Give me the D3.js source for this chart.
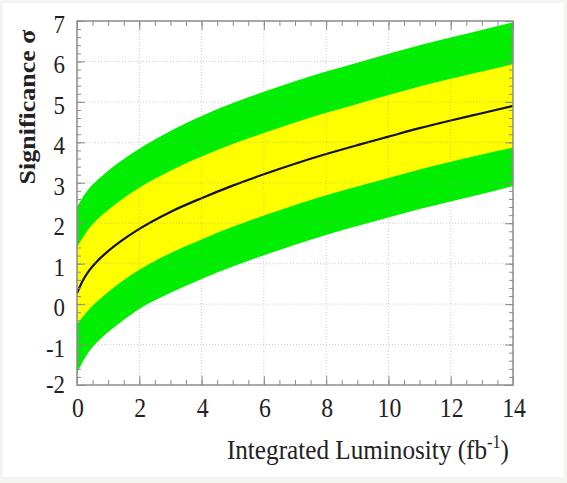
<!DOCTYPE html>
<html>
<head>
<meta charset="utf-8">
<script src="https://cdn.jsdelivr.net/npm/d3@7"></script>
<style>
  html, body { margin: 0; padding: 0; background: #f3f3f1; }
  svg { display: block; }
</style>
</head>
<body>
<svg id="chart" width="567" height="483"></svg>
<script>
// Integrated luminosity (fb^-1) sample points
const lumi = [0, 0.2, 0.4, 0.7, 1, 1.4, 2, 3, 4, 5, 6, 7, 8, 9, 10, 11, 12, 13, 14];
// Expected significance (central curve)
const sigCentral = [0.27, 0.6, 0.84, 1.1, 1.31, 1.55, 1.86, 2.28, 2.62, 2.93, 3.21, 3.47, 3.71, 3.93, 4.14, 4.35, 4.54, 4.72, 4.9];
// ±1σ band
const sig1Up   = [1.41, 1.66, 1.88, 2.13, 2.33, 2.57, 2.88, 3.3, 3.65, 3.96, 4.23, 4.49, 4.73, 4.95, 5.17, 5.38, 5.57, 5.75, 5.93];
const sig1Down = [-0.5, -0.3, -0.12, 0.1, 0.3, 0.54, 0.85, 1.26, 1.6, 1.91, 2.19, 2.45, 2.69, 2.91, 3.12, 3.33, 3.52, 3.7, 3.87];
// ±2σ band
const sig2Up   = [2.4, 2.66, 2.87, 3.1, 3.3, 3.53, 3.84, 4.28, 4.65, 4.97, 5.25, 5.51, 5.75, 5.97, 6.19, 6.4, 6.59, 6.78, 6.97];
const sig2Down = [-1.71, -1.4, -1.16, -0.9, -0.69, -0.45, -0.12, 0.28, 0.62, 0.93, 1.21, 1.47, 1.71, 1.93, 2.14, 2.35, 2.54, 2.72, 2.92];
// Axis ticks
const xTicks = [0, 2, 4, 6, 8, 10, 12, 14];
const yTicks = [-2, -1, 0, 1, 2, 3, 4, 5, 6, 7];

const svg = d3.select("#chart");
const W = 567, H = 483;
const pLeft = 77, pRight = 513, pTop = 21, pBottom = 385;

// page panel
svg.append("rect").attr("x", 3).attr("y", 3).attr("width", W - 6).attr("height", H - 9)
  .attr("fill", "#ffffff");

const x = d3.scaleLinear().domain([0, 14]).range([pLeft, pRight]);
const y = d3.scaleLinear().domain([-2, 7]).range([pBottom, pTop]);

const rows = lumi.map((l, i) => ({
  l, c: sigCentral[i], u1: sig1Up[i], d1: sig1Down[i], u2: sig2Up[i], d2: sig2Down[i]
}));

const band = (lo, hi) => d3.area()
  .x(d => x(d.l)).y0(d => y(d[lo])).y1(d => y(d[hi]))
  .curve(d3.curveMonotoneX);

const plot = svg.append("g");
plot.append("path").datum(rows).attr("d", band("d2", "u2")).attr("fill", "#00ee00");
plot.append("path").datum(rows).attr("d", band("d1", "u1")).attr("fill", "#ffff00");

// dotted grid, faint over the bands
const grid = svg.append("g").attr("stroke", "#9a9a9a").attr("stroke-width", 1)
  .attr("stroke-dasharray", "1,2").attr("opacity", 0.5);
xTicks.slice(1, -1).forEach(t => grid.append("line")
  .attr("x1", x(t)).attr("x2", x(t)).attr("y1", pTop).attr("y2", pBottom));
yTicks.slice(1, -1).forEach(t => grid.append("line")
  .attr("x1", pLeft).attr("x2", pRight).attr("y1", y(t)).attr("y2", y(t)));

// central curve
plot.append("path").datum(rows)
  .attr("d", d3.line().x(d => x(d.l)).y(d => y(d.c)).curve(d3.curveMonotoneX))
  .attr("fill", "none").attr("stroke", "#111").attr("stroke-width", 2.2);

// frame with ticks on all sides
const frameCol = "#8c8c8c";
svg.append("rect").attr("x", pLeft).attr("y", pTop).attr("width", pRight - pLeft).attr("height", pBottom - pTop)
  .attr("fill", "none").attr("stroke", frameCol).attr("stroke-width", 1.5);

const axB = d3.axisBottom(x).tickValues(d3.range(0, 14.01, 0.5)).tickSize(-5).tickFormat("");
const axT = d3.axisTop(x).tickValues(d3.range(0, 14.01, 0.5)).tickSize(-5).tickFormat("");
const axL = d3.axisLeft(y).tickValues(d3.range(-2, 7.01, 0.2)).tickSize(-4).tickFormat("");
const axR = d3.axisRight(y).tickValues(d3.range(-2, 7.01, 0.2)).tickSize(-4).tickFormat("");
const axBM = d3.axisBottom(x).tickValues(xTicks).tickSize(-9).tickFormat("");
const axTM = d3.axisTop(x).tickValues(xTicks).tickSize(-9).tickFormat("");
const axLM = d3.axisLeft(y).tickValues(yTicks).tickSize(-8).tickFormat("");
const axRM = d3.axisRight(y).tickValues(yTicks).tickSize(-8).tickFormat("");
[[axB, `translate(0,${pBottom})`], [axT, `translate(0,${pTop})`], [axL, `translate(${pLeft},0)`], [axR, `translate(${pRight},0)`],
 [axBM, `translate(0,${pBottom})`], [axTM, `translate(0,${pTop})`], [axLM, `translate(${pLeft},0)`], [axRM, `translate(${pRight},0)`]]
  .forEach(([ax, tr]) => {
    const g = svg.append("g").attr("transform", tr).call(ax);
    g.select(".domain").remove();
    g.selectAll("line").attr("stroke", frameCol).attr("stroke-width", 1);
  });

// tick labels (narrow serif face)
const font = "'Liberation Serif', 'Times New Roman', serif";
const sx = 0.88;
svg.append("g").selectAll("text").data(xTicks).join("text")
  .attr("transform", d => `translate(${x(d) + 1},417) scale(${sx},1)`)
  .attr("text-anchor", "middle").attr("font-family", font).attr("font-size", 27).attr("fill", "#222")
  .text(d => d);
svg.append("g").selectAll("text").data(yTicks).join("text")
  .attr("transform", d => `translate(65,${y(d) + (d === -2 ? 8 : 12)}) scale(${sx},1)`)
  .attr("text-anchor", "end").attr("font-family", font).attr("font-size", 26).attr("fill", "#222")
  .text(d => d);

// axis titles
svg.append("text")
  .attr("transform", "translate(35,107) rotate(-90) scale(1,0.9)")
  .attr("text-anchor", "middle").attr("font-family", font).attr("font-size", 26).attr("font-weight", "bold")
  .attr("fill", "#222").text("Significance σ");

const xt = svg.append("text").attr("transform", `translate(509,459) scale(0.9,1)`)
  .attr("text-anchor", "end").attr("font-family", font).attr("font-size", 28).attr("fill", "#222");
xt.append("tspan").text("Integrated Luminosity (fb");
xt.append("tspan").attr("dy", -11).attr("font-size", 18).text("-1");
xt.append("tspan").attr("dy", 11).text(")");
</script>
</body>
</html>
